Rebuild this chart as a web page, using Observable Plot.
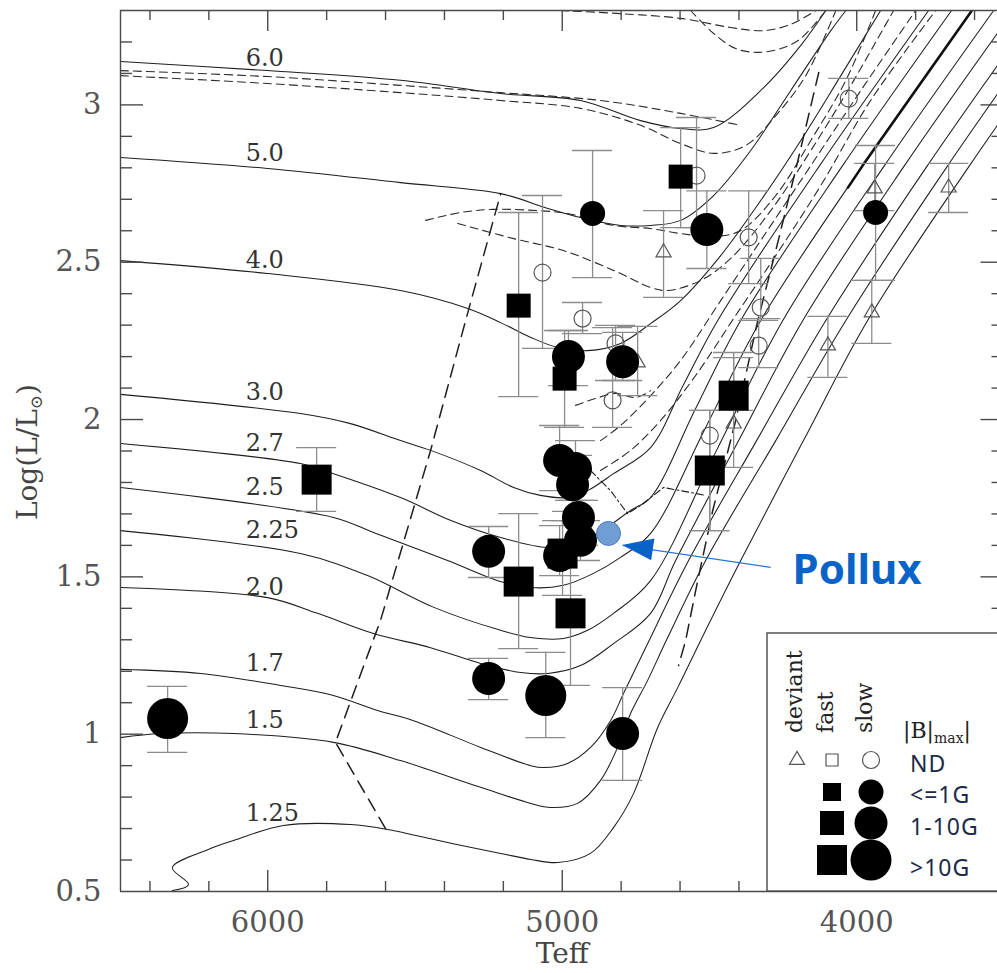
<!DOCTYPE html>
<html><head><meta charset="utf-8">
<script src="https://cdn.jsdelivr.net/npm/d3@7"></script>
<script src="https://cdn.jsdelivr.net/npm/@observablehq/plot@0.6"></script>
<style>
html,body{margin:0;padding:0;background:#fff;overflow:hidden;}
#chart{position:relative;width:997px;height:973px;overflow:hidden;}
</style></head><body><div id="chart"></div>
<script>
// ---------------- DATA ----------------
const trackMasses = ["1.25","1.5","1.7","2.0","2.25","2.5","2.7","3.0","4.0","5.0","6.0"];
const labelL = [0.748,1.043,1.225,1.466,1.647,1.784,1.924,2.086,2.505,2.846,3.147];
const labelT = 6075;

const track_1_25 = [[6324,0.503],[6269,0.522],[6324,0.576],[6204,0.633],[6116,0.662],[5947,0.710],[5719,0.713],[5593,0.697],[5378,0.653],[5209,0.621],[5107,0.602],[5016,0.592],[4904,0.621],[4826,0.703],[4758,0.811],[4676,1.021],[4608,1.148],[4530,1.298],[4394,1.552],[4181,1.933],[3963,2.315],[3617,2.807],[3246,3.300]];
const track_1_5 = [[6500,0.989],[6364,1.002],[6116,1.002],[5777,0.974],[5549,0.916],[5277,0.831],[5107,0.780],[5039,0.767],[4948,0.780],[4870,0.853],[4812,0.958],[4768,1.066],[4710,1.171],[4642,1.307],[4513,1.552],[4275,1.933],[4037,2.315],[3691,2.807],[3321,3.300]];
const track_1_7 = [[6500,1.206],[6228,1.193],[5957,1.155],[5777,1.123],[5627,1.075],[5505,1.043],[5277,0.958],[5107,0.900],[5063,0.894],[4982,0.907],[4904,0.958],[4836,1.043],[4792,1.129],[4710,1.288],[4571,1.552],[4340,1.933],[4105,2.315],[3760,2.807],[3389,3.300]];
const track_2_0 = [[6500,1.466],[6001,1.434],[5831,1.384],[5641,1.320],[5447,1.275],[5277,1.225],[5141,1.196],[5049,1.193],[4938,1.218],[4826,1.288],[4700,1.384],[4615,1.552],[4401,1.933],[4183,2.315],[3838,2.807],[3467,3.300]];
const track_2_25 = [[6500,1.647],[5889,1.574],[5661,1.504],[5436,1.403],[5209,1.330],[5107,1.307],[4996,1.304],[4914,1.330],[4826,1.384],[4700,1.488],[4476,1.902],[4251,2.315],[3906,2.807],[3535,3.300]];
const track_2_5 = [[6500,1.784],[5777,1.689],[5641,1.641],[5389,1.552],[5219,1.488],[5107,1.466],[4996,1.473],[4894,1.511],[4802,1.562],[4700,1.638],[4513,1.975],[4326,2.315],[3980,2.807],[3609,3.300]];
const track_2_7 = [[6500,1.924],[5889,1.860],[5777,1.828],[5549,1.752],[5378,1.679],[5209,1.625],[5049,1.593],[4962,1.606],[4880,1.638],[4768,1.711],[4700,1.752],[4547,2.035],[4394,2.315],[4048,2.807],[3678,3.300]];
const track_3_0 = [[6500,2.080],[5889,2.019],[5719,1.987],[5549,1.933],[5447,1.902],[5277,1.838],[5165,1.784],[5074,1.759],[4982,1.752],[4914,1.774],[4826,1.828],[4700,1.911],[4588,2.111],[4472,2.315],[4126,2.807],[3756,3.300]];
const track_4_0 = [[6500,2.505],[6001,2.464],[5549,2.410],[5321,2.353],[5209,2.308],[5107,2.261],[5016,2.229],[4914,2.219],[4802,2.242],[4700,2.305],[4598,2.378],[4462,2.521],[4326,2.696],[4190,2.887],[4054,3.093],[3919,3.300]];
const track_5_0 = [[6500,2.833],[6001,2.798],[5549,2.753],[5209,2.718],[5049,2.671],[4938,2.642],[4802,2.617],[4700,2.617],[4598,2.633],[4486,2.712],[4360,2.855],[4224,3.046],[4088,3.236],[4037,3.300]];
const track_6_0 = [[6500,3.138],[6001,3.109],[5549,3.078],[5209,3.036],[4938,3.014],[4734,2.950],[4598,2.925],[4486,2.928],[4316,3.055],[4190,3.189],[4105,3.300]];
const thick_2_5 = [[4030,2.737],[3980,2.807],[3609,3.300]];

// dashed curves
const dash_gapBoundary = [[5600,0.700],[5770,0.974],[5617,1.362],[5447,1.902],[5328,2.315],[5209,2.718]];
const dash_rightBoundary = [[4129,3.103],[4208,2.791],[4275,2.537],[4336,2.315],[4411,1.997],[4489,1.711],[4540,1.488],[4581,1.298],[4605,1.218]];
const dash_c = [[6500,3.109],[6001,3.090],[5549,3.062],[5209,3.039],[4870,3.014],[4598,2.973],[4394,2.935]];
const dash_d = [[6500,3.093],[6001,3.068],[5549,3.039],[5209,3.014],[4938,2.989],[4734,2.935],[4598,2.877],[4486,2.846],[4377,2.871],[4275,2.966],[4173,3.093],[4071,3.300]];
const dash_e = [[5006,3.300],[4802,3.290],[4598,3.275],[4428,3.246],[4316,3.236],[4224,3.256],[4139,3.300]];
const dash_f = [[4564,3.300],[4486,3.227],[4411,3.179],[4336,3.167],[4258,3.179],[4190,3.211],[4105,3.300]];
const dash_g = [[5464,2.633],[5345,2.658],[5233,2.668],[5084,2.664],[4982,2.655],[4826,2.617],[4700,2.607],[4598,2.591],[4486,2.582],[4394,2.601],[4275,2.712],[4156,2.887],[4037,3.078],[3936,3.300]];
const dash_h = [[5355,2.623],[5165,2.575],[4996,2.537],[4826,2.474],[4700,2.420],[4642,2.410],[4530,2.442],[4428,2.512],[4292,2.664],[4156,2.855],[4020,3.062],[3875,3.300]];
const dash_i = [[4870,1.933],[4802,1.981],[4700,2.076],[4598,2.188],[4462,2.378],[4326,2.569],[4156,2.807],[3986,3.046],[3800,3.300]];
const dash_j = [[4870,1.838],[4768,1.902],[4666,1.997],[4547,2.140],[4411,2.331],[4275,2.521],[4122,2.744],[3953,3.014],[3732,3.300]];
const dash_l = [[4955,2.045],[4887,2.067],[4819,2.083],[4751,2.070],[4700,2.092]];
const dashdot_k = [[4904,1.838],[4836,1.774],[4778,1.701],[4734,1.727],[4656,1.784],[4564,1.768],[4513,1.759]];

// stars: [Teff, logL, low, high, class(1:<=1G, 2:1-10G, 3:>10G)]
const filledCircles = [
 [6340,1.050,0.942,1.152,3],[4897,2.655,2.451,2.855,1],[4509,2.604,2.480,2.727,2],[3936,2.658,2.442,2.871,1],
 [4979,2.200,2.108,2.283,2],[4795,2.184,2.124,2.277,2],[5009,1.870,1.774,1.981,2],[4955,1.844,1.743,1.933,2],
 [4965,1.793,1.708,1.886,2],[4945,1.689,1.600,1.743,2],[4938,1.616,1.552,1.679,2],[5009,1.568,1.504,1.663,2],
 [5250,1.581,1.498,1.660,2],[5250,1.177,1.110,1.241,2],[5056,1.123,0.989,1.260,3],[4795,1.002,0.853,1.148,2]
];
const filledSquares = [
 [5834,1.809,1.708,1.911,3],[5148,1.485,1.272,1.701,3],[4972,1.384,1.155,1.679,3],[4999,1.574,1.441,1.679,3],
 [4598,2.772,2.610,2.928,2],[5148,2.362,2.073,2.658,2],[4992,2.130,1.975,2.283,2],[4418,2.076,2.029,2.213,3],
 [4499,1.838,1.647,2.029,3]
];
const openCircles = [
 [5067,2.467,2.226,2.712],[4931,2.321,2.273,2.372],[4819,2.242,2.124,2.299],[4829,2.061,1.975,2.292],
 [4544,2.775,2.610,2.960],[4367,2.579,2.432,2.727],[4027,3.020,2.957,3.084],[4326,2.356,2.321,2.512],
 [4333,2.235,2.165,2.315],[4499,1.949,1.647,2.029]
];
const openTriangles = [
 [4656,2.531,2.388,2.664],[3939,2.734,2.664,2.814],[3688,2.737,2.658,2.814],[3949,2.340,2.242,2.442],
 [4098,2.235,2.134,2.328],[4418,1.987,1.848,2.197],[4744,2.181,2.076,2.296]
];
const pollux = [4843,1.638];
const polluxArrowTail = [4292,1.530];
const polluxArrowTip = [4795,1.600];
const polluxLabelAt = [4218,1.520];

const xTickValues = [6000,5000,4000];
const xTickLabels = ["6000","5000","4000"];
const yTickValues = [0.5,1,1.5,2,2.5,3];
const yTickLabels = ["0.5","1","1.5","2","2.5","3"];
const legendRows = ["ND","<=1G","1-10G",">10G"];
const legendHeaders = ["deviant","fast","slow"];

// ---------------- BUILD ----------------
const circD = {1:25, 2:33, 3:41};
const sqSide = {1:18, 2:24, 3:30};
const SQ = Math.sqrt(Math.PI);
const keys = ["T","L","lo","hi","c"];
const rec = a => Object.fromEntries(keys.map((k,i)=>[k,a[i]]));
const fc = filledCircles.map(rec), fs = filledSquares.map(rec), oc = openCircles.map(rec), ot = openTriangles.map(rec);
const errs = [...fs, ...fc, ...oc, ...ot];
const rows = (list) => list.flatMap((t,i)=>t.map(([T,L])=>({id:i,T,L})));
const solidRows = rows([track_1_25,track_1_5,track_1_7,track_2_0,track_2_25,track_2_5,track_2_7,track_3_0,track_4_0,track_5_0,track_6_0]);
const dashRows = rows([dash_c,dash_d,dash_e,dash_f,dash_g,dash_h,dash_i,dash_j,dash_l]);
const boundRows = rows([dash_gapBoundary, dash_rightBoundary]);
const dotRows = rows([dashdot_k]);
const thickRows = rows([thick_2_5]);

const capW = 68;
const xMinor = d3.range(6400, 3500, -200).filter(v => v % 1000 !== 0);
const yMinor = d3.range(6, 33).map(v=>v/10).filter(v => Math.round(v*10) % 5 !== 0);
const yMajor = [1,1.5,2,2.5,3];
const tk = {bMin:0.5+10/314.64, bMaj:0.5+21/314.64, tMin:3.3-10/314.64, tMaj:3.3-21/314.64,
            lMin:6500-12/0.29449, lMaj:6500-23/0.29449, rMin:3500+12/0.29449, rMaj:3500+23/0.29449};
const frameStyle = {stroke:"#4a4a4a", strokeWidth:1.4};

const chart = Plot.plot({
  width: 997, height: 973,
  marginLeft: 120, marginRight: 0, marginTop: 10, marginBottom: 82,
  x: {domain:[6500,3500], range:[120,1003.5], axis:null},
  y: {domain:[0.5,3.3], range:[891,10], axis:null},
  r: {type:"identity"},
  style: {fontFamily:"DejaVu Serif", background:"#fff"},
  marks: [
    Plot.line(solidRows, {x:"T", y:"L", z:"id", curve:"catmull-rom", stroke:"#1e1e1e", strokeWidth:1.05, clip:true}),
    Plot.line(thickRows, {x:"T", y:"L", z:"id", stroke:"#111", strokeWidth:2.6, clip:true}),
    Plot.line(dashRows, {x:"T", y:"L", z:"id", curve:"catmull-rom", stroke:"#2a2a2a", strokeWidth:1.1, strokeDasharray:"8,5", clip:true}),
    Plot.line(boundRows, {x:"T", y:"L", z:"id", stroke:"#1e1e1e", strokeWidth:1.5, strokeDasharray:"13,8", clip:true}),
    Plot.line(dotRows, {x:"T", y:"L", z:"id", stroke:"#1e1e1e", strokeWidth:1.1, strokeDasharray:"7,3,2,3", clip:true}),
    Plot.text(trackMasses, {x: labelT, y: (d,i)=>labelL[i], text: d=>d, textAnchor:"start", lineAnchor:"middle", fontSize:24, fill:"#333"}),
    // error bars
    Plot.ruleX(errs, {x:"T", y1:"lo", y2:"hi", stroke:"#8c8c8c", strokeWidth:1.3}),
    Plot.ruleY(errs, {y:"lo", x1:d=>d.T+capW, x2:d=>d.T-capW, stroke:"#8c8c8c", strokeWidth:1.3}),
    Plot.ruleY(errs, {y:"hi", x1:d=>d.T+capW, x2:d=>d.T-capW, stroke:"#8c8c8c", strokeWidth:1.3}),
    // markers
    Plot.dot(oc, {x:"T", y:"L", r:8.5, stroke:"#555", strokeWidth:1.2, fill:"none"}),
    Plot.dot(ot, {x:"T", y:"L", r:5.6, symbol:"triangle", stroke:"#555", strokeWidth:1.2, fill:"none"}),
    Plot.dot(fs, {x:"T", y:"L", r:d=>sqSide[d.c]/SQ, symbol:"square", fill:"#000"}),
    Plot.dot(fc, {x:"T", y:"L", r:d=>circD[d.c]/2, fill:"#000"}),
    // Pollux
    Plot.link([0], {x1:polluxArrowTail[0], y1:polluxArrowTail[1], x2:polluxArrowTip[0], y2:polluxArrowTip[1], stroke:"#2a76d4", strokeWidth:1.2}),
    Plot.dot([pollux], {x:d=>d[0], y:d=>d[1], r:12, fill:"#6f9dd4", stroke:"#4a7cbf", strokeWidth:1}),
    Plot.text(["Pollux"], {x:polluxLabelAt[0], y:polluxLabelAt[1], text:d=>d, textAnchor:"start", lineAnchor:"middle", fontSize:42, fontWeight:"bold", fontFamily:"Noto Sans", fill:"#0a64c8"}),
    // frame & ticks
    Plot.ruleX([6500], {y1:0.5, y2:3.3, ...frameStyle, ariaLabel:"frameticks"}),
    Plot.ruleY([0.5,3.3], {x1:6500, x2:3500, ...frameStyle}),
    Plot.ruleX(xMinor, {x:d=>d, y1:0.5, y2:tk.bMin, ...frameStyle}),
    Plot.ruleX(xTickValues, {x:d=>d, y1:0.5, y2:tk.bMaj, ...frameStyle}),
    Plot.ruleX(xMinor, {x:d=>d, y1:3.3, y2:tk.tMin, ...frameStyle}),
    Plot.ruleX(xTickValues, {x:d=>d, y1:3.3, y2:tk.tMaj, ...frameStyle}),
    Plot.ruleY(yMinor, {y:d=>d, x1:6500, x2:tk.lMin, ...frameStyle}),
    Plot.ruleY(yMajor, {y:d=>d, x1:6500, x2:tk.lMaj, ...frameStyle}),
    Plot.ruleY(yMinor, {y:d=>d, x1:3500, x2:tk.rMin, ...frameStyle}),
    Plot.ruleY(yMajor, {y:d=>d, x1:3500, x2:tk.rMaj, ...frameStyle}),
    // tick labels
    Plot.text(xTickValues, {x:d=>d, y:0.5, dy:31, text:(d,i)=>xTickLabels[i], fontSize:29, fill:"#555", lineAnchor:"middle"}),
    Plot.text(yTickValues, {x:6500, y:d=>d, dx:-19, text:(d,i)=>yTickLabels[i], textAnchor:"end", lineAnchor:"middle", fontSize:29, fill:"#555"}),
    Plot.text(["Teff"], {x:5000, y:0.5, dy:63, text:d=>d, fontSize:28, fill:"#444", lineAnchor:"middle"})
  ]
});
document.getElementById("chart").appendChild(chart);

// ---------------- ANNOTATIONS (arrowhead, y title, legend) ----------------
const sx = chart.scale("x"), sy = chart.scale("y");
const X = v => sx.apply(v), Y = v => sy.apply(v);
const svg = d3.select(chart);

// arrowhead
{
  const px = X(polluxArrowTip[0]), py = Y(polluxArrowTip[1]);
  const qx = X(polluxArrowTail[0]), qy = Y(polluxArrowTail[1]);
  const len = Math.hypot(px-qx, py-qy), ux = (px-qx)/len, uy = (py-qy)/len;
  const bx = px - ux*31, by = py - uy*31, nx = -uy, ny = ux;
  svg.append("path").attr("d", `M${px},${py}L${bx+nx*11},${by+ny*11}L${bx-nx*11},${by-ny*11}Z`).attr("fill","#0a62c6");
}

// y axis title
{
  const t = svg.append("text").attr("transform", `translate(37,${Y(1.895)}) rotate(-90)`)
    .attr("text-anchor","middle").attr("font-family","DejaVu Serif").attr("font-size",28).attr("fill","#444");
  t.append("tspan").text("Log(L/L");
  t.append("tspan").attr("font-size",17).attr("dy",5).text("\u2299");
  t.append("tspan").attr("dy",-5).text(")");
}

// legend (inserted beneath frame/ticks)
{
  const x0 = X(4303), y0 = Y(1.320);
  const g = d3.create("svg:g").attr("transform", `translate(${x0},${y0})`).attr("text-anchor","start");
  g.append("rect").attr("x",0).attr("y",0).attr("width",260).attr("height",Y(0.5)-y0)
    .attr("fill","#fff").attr("stroke","#4a4a4a").attr("stroke-width",1.4);
  const hx = [35, 66, 105];
  legendHeaders.forEach((h,i)=>{
    g.append("text").attr("transform", `translate(${hx[i]},100) rotate(-90)`).attr("text-anchor","start")
      .attr("font-family","DejaVu Serif").attr("font-size",22).attr("fill","#222").text(h);
  });
  const b = g.append("text").attr("x",136).attr("y",105).attr("text-anchor","start")
    .attr("font-family","DejaVu Serif").attr("font-size",22).attr("fill","#222");
  b.append("tspan").text("|B|");
  b.append("tspan").attr("font-size",14).attr("dy",5).text("max");
  b.append("tspan").attr("dy",-5).text("|");
  const rowY = [127, 159, 190, 227];
  const textY = [131, 162, 194, 235];
  const cx = {tri:30, sq:65, ci:104};
  // ND row (open)
  g.append("path").attr("transform",`translate(${cx.tri},${rowY[0]})`)
    .attr("d", d3.symbol(d3.symbolTriangle, 3*Math.sqrt(3)*Math.pow(15/(2*Math.sqrt(3)),2))())
    .attr("fill","none").attr("stroke","#555").attr("stroke-width",1.2);
  g.append("path").attr("transform",`translate(${cx.sq},${rowY[0]})`)
    .attr("d", d3.symbol(d3.symbolSquare, 12*12)()).attr("fill","none").attr("stroke","#555").attr("stroke-width",1.2);
  g.append("circle").attr("cx",cx.ci).attr("cy",rowY[0]).attr("r",8.5).attr("fill","none").attr("stroke","#555").attr("stroke-width",1.2);
  [1,2,3].forEach(c=>{
    g.append("path").attr("transform",`translate(${cx.sq},${rowY[c]})`)
      .attr("d", d3.symbol(d3.symbolSquare, sqSide[c]*sqSide[c])()).attr("fill","#000");
    g.append("circle").attr("cx",cx.ci).attr("cy",rowY[c]).attr("r",circD[c]/2).attr("fill","#000");
  });
  legendRows.forEach((r,i)=>{
    g.append("text").attr("x",143).attr("y",textY[i]).attr("dy","0.35em").attr("text-anchor","start")
      .attr("font-family","Noto Sans").attr("font-size",23).attr("letter-spacing",1).attr("fill","#1c2a48").text(r);
  });
  const ref = chart.querySelector('[aria-label="frameticks"]');
  if (ref) chart.insertBefore(g.node(), ref); else chart.appendChild(g.node());
}
</script>
</body></html>
